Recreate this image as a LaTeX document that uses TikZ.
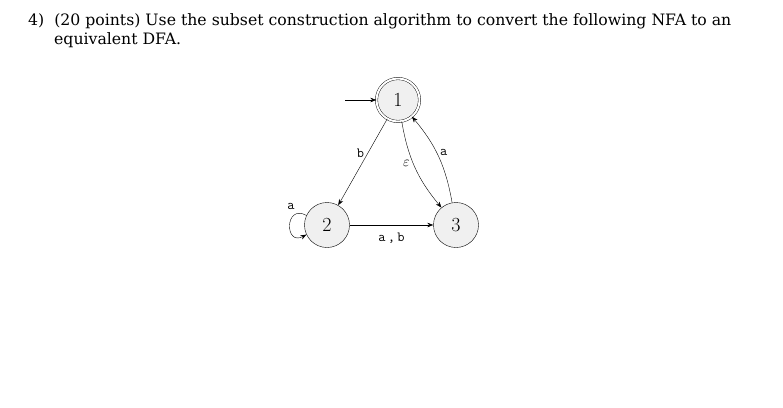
\documentclass[tikz,border=0pt]{standalone}
\usepackage{fontspec}
\newfontfamily\headfont{DejaVu Serif}
\usetikzlibrary{arrows.meta,automata}
\begin{document}
\begin{tikzpicture}[x=1pt,y=-1pt,
 st/.style={circle,draw,fill=gray!12,minimum size=45pt,inner sep=0pt,font=\fontsize{20}{20}\selectfont},
 lab/.style={font=\ttfamily\fontsize{14}{14}\selectfont},
 >={Stealth[length=6pt,width=4.5pt]}]
\path[use as bounding box] (0,0) rectangle (783,407);
\node[anchor=base west,font=\headfont\fontsize{15.7}{15.7}\selectfont,inner sep=0pt] (t1) at (28,25) {4)\ \ (20 points) Use the subset construction algorithm to convert the following NFA to an};
\node[anchor=base west,font=\headfont\fontsize{15.7}{15.7}\selectfont,inner sep=0pt] (t2) at (54,44) {equivalent DFA.};
\node[st,double,double distance=2pt,minimum size=43pt] (n1) at (398,100) {1};
\node[st] (n2) at (327,225) {2};
\node[st] (n3) at (456,225) {3};
\coordinate (s) at (345,100);
\draw[->] (s) -- (n1);
\draw[->] (n1) -- node[lab,left,pos=0.4]{b} (n2);
\draw[->] (n1) to[bend right=15] node[pos=0.45,left,font=\fontsize{14}{14}\selectfont]{$\varepsilon$} (n3);
\draw[->] (n3) to[bend right=15] node[lab,right,pos=0.55]{a} (n1);
\draw[->] (n2) -- node[lab,below=4pt]{a\,,\,b} (n3);
\draw[->] (n2.155) .. controls +(-22,-12) and +(-22,12) .. node[lab,pos=0.15,above left]{a} (n2.205);
\end{tikzpicture}
\end{document}
